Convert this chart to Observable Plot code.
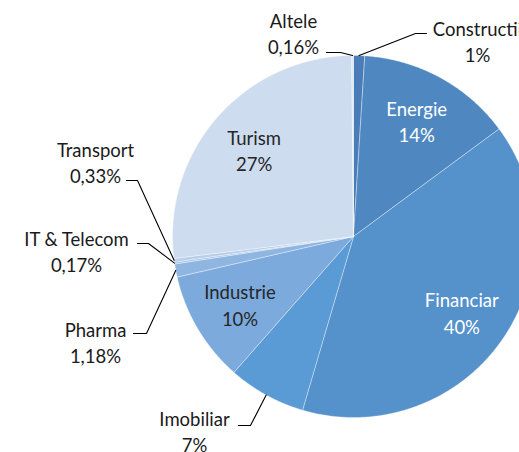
<!DOCTYPE html>
<html>
<head>
<meta charset="utf-8">
<script src="https://cdn.jsdelivr.net/npm/d3@7"></script>
<script src="https://cdn.jsdelivr.net/npm/@observablehq/plot@0.6"></script>
<style>
  html, body { margin: 0; padding: 0; background: #fff; overflow: hidden; }
  svg { overflow: hidden; display: block; }
</style>
</head>
<body>
<div id="chart"></div>
<script>
// ---- data ----
const names = ["Constructii", "Energie", "Financiar", "Imobiliar", "Industrie", "Pharma", "IT & Telecom", "Transport", "Turism", "Altele"];
const values = [1, 14, 40, 7, 10, 1.18, 0.17, 0.33, 27, 0.16];
const valueLabels = ["1%", "14%", "40%", "7%", "10%", "1,18%", "0,17%", "0,33%", "27%", "0,16%"];
const colors = ["#4a7db8", "#4f88c1", "#5591cb", "#5b9bd5", "#7caadc", "#8fb6e1", "#a5c3e7", "#b7cfeb", "#cedcf0", "#dce6f4"];

// ---- layout ----
const W = 519, H = 452;
const cx = 353, cy = 236, R = 181;
const outsideLayout = {
  "Altele":       {x: 293, y: 32,  lx0: 326, lx1: 340, ly: 52},
  "Constructii":  {x: 477, y: 40,  lx0: 426, lx1: 415, ly: 33},
  "Transport":    {x: 95,  y: 161, lx0: 126, lx1: 137, ly: 180},
  "IT & Telecom": {x: 76,  y: 250, lx0: 137, lx1: 148, ly: 243},
  "Pharma":       {x: 95,  y: 341, lx0: 133, lx1: 146, ly: 333},
  "Imobiliar":    {x: 194, y: 430, lx0: 238, lx1: 250, ly: 425}
};
const insideWhite = new Set(["Energie", "Financiar"]);

const total = d3.sum(values);
let acc = 0;
const slices = names.map((n, i) => {
  const a0 = acc / total * 2 * Math.PI;
  acc += values[i];
  const a1 = acc / total * 2 * Math.PI;
  return {name: n, value: values[i], label: valueLabels[i], color: colors[i], a0, a1, mid: (a0 + a1) / 2};
});

const poly = [];
for (const s of slices) {
  poly.push({name: s.name, x: 0, y: 0});
  const n = Math.max(2, Math.ceil((s.a1 - s.a0) / (Math.PI / 360)));
  for (let k = 0; k <= n; k++) {
    const a = s.a0 + (s.a1 - s.a0) * k / n;
    poly.push({name: s.name, x: Math.sin(a), y: Math.cos(a)});
  }
  poly.push({name: s.name, x: 0, y: 0});
}

const ux = px => (px - cx) / R;
const uy = py => (cy - py) / R;

const insideLabels = slices.filter(s => !outsideLayout[s.name]).map(s => ({
  text: s.name + "\n" + s.label,
  x: 0.73 * Math.sin(s.mid), y: 0.73 * Math.cos(s.mid),
  fill: insideWhite.has(s.name) ? "#ffffff" : "#262626"
}));
const outsideLabels = slices.filter(s => outsideLayout[s.name]).map(s => ({
  text: s.name + "\n" + s.label,
  x: ux(outsideLayout[s.name].x), y: uy(outsideLayout[s.name].y)
}));
const leaders = [];
for (const s of slices) {
  const L = outsideLayout[s.name];
  if (!L) continue;
  leaders.push({name: s.name, x: ux(L.lx0), y: uy(L.ly)});
  leaders.push({name: s.name, x: ux(L.lx1), y: uy(L.ly)});
  leaders.push({name: s.name, x: Math.sin(s.mid), y: Math.cos(s.mid)});
}

const chart = Plot.plot({
  width: W, height: H,
  marginTop: 0, marginRight: 0, marginBottom: 0, marginLeft: 0,
  x: {type: "linear", domain: [-1, 1], range: [cx - R, cx + R], axis: null},
  y: {type: "linear", domain: [-1, 1], range: [cy + R, cy - R], axis: null},
  color: {domain: names, range: colors},
  style: {fontFamily: "Lato, 'Open Sans', sans-serif", background: "#fff"},
  marks: [
    Plot.line(poly, {x: "x", y: "y", z: "name", fill: "name", stroke: "#ffffff", strokeWidth: 0.5, strokeOpacity: 0.7, curve: "linear-closed"}),
    Plot.line(leaders, {x: "x", y: "y", z: "name", stroke: "#000000", strokeWidth: 1.1}),
    Plot.text(insideLabels, {x: "x", y: "y", text: "text", fill: "fill", fontSize: 18.5, lineHeight: 1.45}),
    Plot.text(outsideLabels, {x: "x", y: "y", text: "text", fill: "#1a1a1a", fontSize: 18.5, lineHeight: 1.45})
  ]
});
document.getElementById("chart").appendChild(chart);
</script>
</body>
</html>
